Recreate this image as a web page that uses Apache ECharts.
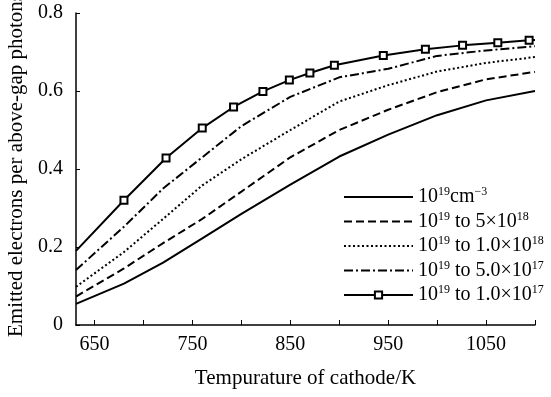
<!DOCTYPE html>
<html>
<head>
<meta charset="utf-8">
<script src="https://cdn.jsdelivr.net/npm/echarts@6/dist/echarts.min.js"></script>
<style>
  html, body { margin: 0; padding: 0; background: #fff; }
  #main { width: 551px; height: 397px; }
</style>
</head>
<body>
<div id="main"></div>
<script>
  // temperatures (K) for the four plain curves
  var temps = [631, 680, 720, 760, 800, 850, 900, 950, 1000, 1050, 1100];
  var s1 = [0.054, 0.106, 0.160, 0.222, 0.285, 0.360, 0.432, 0.488, 0.538, 0.576, 0.600];
  var s2 = [0.073, 0.145, 0.210, 0.272, 0.342, 0.430, 0.500, 0.552, 0.597, 0.630, 0.649];
  var s3 = [0.098, 0.187, 0.272, 0.358, 0.425, 0.500, 0.573, 0.615, 0.650, 0.672, 0.687];
  var s4 = [0.141, 0.252, 0.350, 0.430, 0.510, 0.585, 0.635, 0.657, 0.690, 0.704, 0.715];
  // curve with square markers
  var sqTemps = [631, 680, 723, 760, 792, 822, 849, 870, 895, 945, 988, 1026, 1062, 1094, 1100];
  var sqVals = [0.190, 0.320, 0.428, 0.505, 0.559, 0.599, 0.628, 0.646, 0.666, 0.691, 0.707, 0.717, 0.724, 0.730, 0.731];

  var xTicks = [650, 700, 750, 800, 850, 900, 950, 1000, 1050, 1100];
  var xLabels = [650, 750, 850, 950, 1050];
  var names = ['10^19 cm^-3', '10^19 to 5x10^18', '10^19 to 1.0x10^18', '10^19 to 5.0x10^17', '10^19 to 1.0x10^17'];
  var legendRich = [
    '{b|10}{s|19}{b|cm}{s|\u22123}',
    '{b|10}{s|19}{b| to 5\u00d710}{s|18}',
    '{b|10}{s|19}{b| to 1.0\u00d710}{s|18}',
    '{b|10}{s|19}{b| to 5.0\u00d710}{s|17}',
    '{b|10}{s|19}{b| to 1.0\u00d710}{s|17}'
  ];

  var font = 'Liberation Serif';

  function pairs(xs, ys) {
    var out = [];
    for (var i = 0; i < xs.length; i++) out.push([xs[i], ys[i]]);
    return out;
  }

  var sqData = [];
  for (var i = 0; i < sqTemps.length; i++) {
    var item = { value: [sqTemps[i], sqVals[i]] };
    if (i === 0 || i === sqTemps.length - 1) item.symbol = 'none';
    sqData.push(item);
  }

  function plain(idx, data, type) {
    return {
      name: names[idx],
      type: 'line',
      data: data,
      symbol: 'none',
      lineStyle: { color: '#000', width: 2, type: type },
      itemStyle: { color: '#000' }
    };
  }

  // legend entries: hide the default dot on the plain lines
  var legendData = names.map(function (n, i) {
    return i < 4 ? { name: n, itemStyle: { opacity: 0 } } : { name: n };
  });

  var chart = echarts.init(document.getElementById('main'));
  var option = {
    animation: false,
    backgroundColor: '#fff',
    grid: { left: 76, right: 16, top: 13, bottom: 72, outerBoundsMode: 'none' },
    legend: {
      orient: 'vertical',
      left: 343,
      top: 186,
      padding: 0,
      itemWidth: 69,
      itemHeight: 9,
      itemGap: 3.5,
      data: legendData,
      formatter: function (name) {
        return legendRich[names.indexOf(name)];
      },
      textStyle: {
        color: '#000',
        rich: {
          b: { fontFamily: font, fontSize: 20, color: '#000', lineHeight: 22 },
          s: { fontFamily: font, fontSize: 12, color: '#000', lineHeight: 22, verticalAlign: 'top' }
        }
      }
    },
    xAxis: {
      type: 'value',
      min: 631,
      max: 1100,
      name: 'Tempurature of cathode/K',
      nameLocation: 'middle',
      nameGap: 43,
      nameTextStyle: { fontFamily: font, fontSize: 21, color: '#000' },
      axisLine: { lineStyle: { color: '#000', width: 1.5 } },
      axisTick: { inside: true, length: 5, customValues: xTicks, lineStyle: { color: '#000' } },
      axisLabel: {
        customValues: xLabels, fontFamily: font, fontSize: 20, color: '#000', margin: 10,
        formatter: function (v) { return String(v); }
      },
      splitLine: { show: false }
    },
    yAxis: {
      type: 'value',
      min: 0,
      max: 0.8,
      interval: 0.2,
      name: 'Emitted electrons per above-gap photons',
      nameLocation: 'middle',
      nameGap: 49,
      nameTextStyle: { fontFamily: font, fontSize: 21, color: '#000', padding: [0, 0, 0, 8] },
      axisLine: { show: true, lineStyle: { color: '#000', width: 1.5 } },
      axisTick: { show: true, inside: true, length: 4, lineStyle: { color: '#000' } },
      axisLabel: {
        fontFamily: font, fontSize: 20, color: '#000', margin: 13,
        formatter: function (v) { return v === 0 ? '0' : v.toFixed(1); }
      },
      splitLine: { show: false }
    },
    series: [
      plain(0, pairs(temps, s1), 'solid'),
      plain(1, pairs(temps, s2), [8, 4]),
      plain(2, pairs(temps, s3), [2, 2.5]),
      plain(3, pairs(temps, s4), [9, 3, 2, 3]),
      {
        name: names[4],
        type: 'line',
        data: sqData,
        symbol: 'emptyRect',
        symbolSize: 7,
        lineStyle: { color: '#000', width: 2 },
        itemStyle: { color: '#000', borderWidth: 2 }
      }
    ]
  };
  chart.setOption(option);
</script>
</body>
</html>
